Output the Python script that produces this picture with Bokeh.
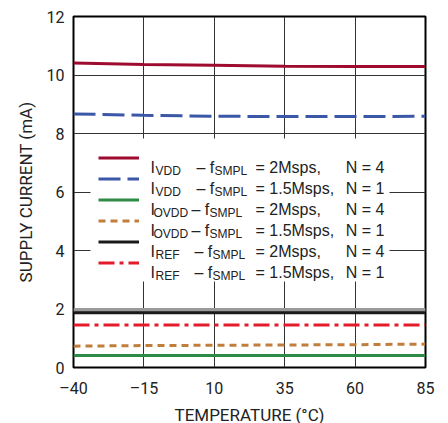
from bokeh.plotting import figure
from bokeh.models import Range1d, FixedTicker, Legend, LegendItem, Label, Span, BoxAnnotation
from bokeh.embed import file_html
from bokeh.resources import INLINE

# ---- data ----
temps = [-40, -15, 10, 35, 60, 85]
ivdd_2m = [10.41, 10.36, 10.33, 10.30, 10.29, 10.29]
ivdd_15m = [8.67, 8.62, 8.59, 8.58, 8.58, 8.59]
iovdd_2m = [0.41, 0.41, 0.41, 0.41, 0.41, 0.41]
iovdd_15m = [0.73, 0.75, 0.76, 0.77, 0.78, 0.80]
iref_2m = [1.87, 1.87, 1.87, 1.87, 1.87, 1.87]
iref_15m = [1.45, 1.45, 1.45, 1.45, 1.45, 1.45]

x_ticks = [-40, -15, 10, 35, 60, 85]
x_tick_labels = ["\u201340", "\u201315", "10", "35", "60", "85"]
y_ticks = [0, 2, 4, 6, 8, 10, 12]

leg_sub = ["VDD", "VDD", "OVDD", "OVDD", "REF", "REF"]
leg_rate = ["= 2Msps,", "= 1.5Msps,", "= 2Msps,", "= 1.5Msps,", "= 2Msps,", "= 1.5Msps,"]
leg_n = ["N = 4", "N = 1", "N = 4", "N = 1", "N = 4", "N = 1"]

# ---- layout constants ----
FRAME_L, FRAME_T, FW, FH = 73, 16, 352, 351
XMIN, XMAX, YMIN, YMAX = -40, 85, 0, 12
AXF = "Roboto"
REG = "'Liberation Sans', Arial, sans-serif"
TXT = "#222222"

p = figure(width=FRAME_L + FW + 15, height=FRAME_T + FH + 56,
           frame_width=FW, frame_height=FH,
           x_range=Range1d(XMIN, XMAX), y_range=Range1d(YMIN, YMAX),
           output_backend="svg", toolbar_location=None,
           min_border_left=FRAME_L, min_border_top=FRAME_T,
           min_border_right=15, min_border_bottom=54)

p.outline_line_color = "black"
p.outline_line_width = 2
p.background_fill_color = "white"

for ax in (p.xaxis[0], p.yaxis[0]):
    ax.axis_line_color = None
    ax.major_tick_line_color = None
    ax.minor_tick_line_color = None
    ax.major_tick_out = 0
    ax.major_tick_in = 0
    ax.minor_tick_out = 0
    ax.major_label_text_font = AXF
    ax.major_label_text_font_size = "16px"
    ax.major_label_text_color = TXT
    ax.axis_label_text_font = AXF
    ax.axis_label_text_font_size = "17px"
    ax.axis_label_text_font_style = "normal"
    ax.axis_label_text_color = TXT

p.xaxis.major_label_standoff = 11
p.yaxis.major_label_standoff = 9
p.xaxis.ticker = FixedTicker(ticks=x_ticks)
p.xaxis.major_label_overrides = {t: l for t, l in zip(x_ticks, x_tick_labels)}
p.yaxis.ticker = FixedTicker(ticks=y_ticks)
p.xaxis.axis_label = "TEMPERATURE (\u00b0C)"
p.yaxis.axis_label = "SUPPLY CURRENT (mA)"
p.xaxis.axis_label_standoff = 4
p.yaxis.axis_label_standoff = 8

p.xgrid.ticker = FixedTicker(ticks=x_ticks[1:-1])
p.ygrid.ticker = FixedTicker(ticks=y_ticks[1:-1])
for g in (p.xgrid[0], p.ygrid[0]):
    g.grid_line_color = "#333333"
    g.grid_line_width = 1


# px (image) -> data helpers for legend placement
def dx(px):
    return XMIN + (px - FRAME_L) * (XMAX - XMIN) / FW


def dy(py):
    return YMIN + (FRAME_T + FH - py) * (YMAX - YMIN) / FH


# white legend panel hiding the grid
p.add_layout(BoxAnnotation(left=dx(90), right=dx(389), top=dy(138), bottom=dy(281),
                           fill_color="white", fill_alpha=1.0, line_color=None,
                           level="underlay"))

p.add_layout(Span(location=1.97, dimension="width", line_color="#9a9a9a",
                  line_width=4, level="underlay"))

W = 3
r1 = p.line(temps, ivdd_2m, line_color="#9E0B2F", line_width=W)
r2 = p.line(temps, ivdd_15m, line_color="#3B57A8", line_width=W, line_dash="22 7")
r3 = p.line(temps, iovdd_2m, line_color="#2E8B46", line_width=W)
r4 = p.line(temps, iovdd_15m, line_color="#C17D3C", line_width=W, line_dash="7 5")
r5 = p.line(temps, iref_2m, line_color="#1a1a1a", line_width=W)
r6 = p.line(temps, iref_15m, line_color="#E31B2B", line_width=W, line_dash="16 5 4 5")

renderers = [r1, r2, r3, r4, r5, r6]
legend = Legend(items=[LegendItem(label=" ", renderers=[r]) for r in renderers],
                location=(25, 94), padding=8, margin=0, spacing=0,
                glyph_width=41, glyph_height=21, label_height=21,
                label_width=20, label_standoff=5,
                border_line_color=None, background_fill_alpha=0.0,
                label_text_font_size="17px")
p.add_layout(legend, "center")

row_top = 281 - (8 * 2 + 21 * 6)
sub_x = {"VDD": 155, "OVDD": 153, "REF": 155}
dash_xs = {"VDD": 196, "OVDD": 191, "REF": 194}
for i in range(6):
    cy = row_top + 8 + 10.5 + 21 * i
    base = cy + 9
    sub_base = cy + 13
    s = leg_sub[i]
    items = [
        ("I", 150, base, "16px", "left"),
        (s, sub_x[s], sub_base, "12px", "left"),
        ("\u2013 f", dash_xs[s], base, "16px", "left"),
        ("SMPL", dash_xs[s] + 18, sub_base, "12px", "left"),
        (leg_rate[i], 255, base, "16px", "left"),
        (leg_n[i], 384, base, "16px", "right"),
    ]
    for txt, px, py, fs, align in items:
        p.add_layout(Label(x=dx(px), y=dy(py), text=txt, text_font=REG,
                           text_font_size=fs, text_color=TXT,
                           text_align=align, text_baseline="alphabetic",
                           level="overlay"))

open("out.html", "w").write(file_html(p, INLINE))
